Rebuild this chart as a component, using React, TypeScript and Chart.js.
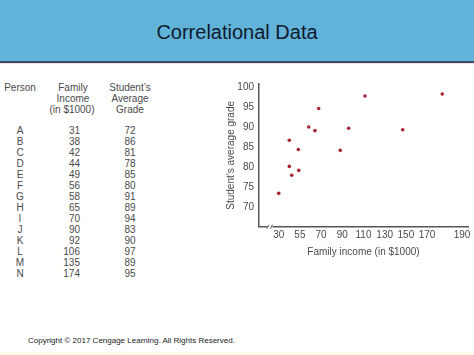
import React, { useEffect, useRef } from "react";
import { Chart, registerables } from "chart.js";

Chart.register(...registerables);

const persons = ["A", "B", "C", "D", "E", "F", "G", "H", "I", "J", "K", "L", "M", "N"];
const tableIncome = [31, 38, 42, 44, 49, 56, 58, 65, 70, 90, 92, 106, 135, 174];
const tableGrade = [72, 86, 81, 78, 85, 80, 91, 89, 94, 83, 90, 97, 89, 95];

// positions of the plotted dots
const plotIncome = [30, 40, 40, 42.3, 48.5, 48.9, 58.3, 64.2, 67.7, 88.1, 96, 111.4, 147, 184.3];
const plotGrade = [73.5, 86.7, 80.2, 78, 84.4, 79.2, 90, 89.1, 94.6, 84.2, 89.7, 97.7, 89.3, 98.2];

const xTickValues = [30, 50, 70, 90, 110, 130, 150, 170, 203];
const xTickLabels = ["30", "55", "70", "90", "110", "130", "150", "170", "190"];
const yTickValues = [70, 75, 80, 85, 90, 95, 100];

const FONT = "'Liberation Sans', Arial, sans-serif";
const TXT = "#4a4a4a";

const breakPlugin = {
  id: "axisBreak",
  afterDraw(chart: any) {
    const ctx = chart.ctx;
    const x = chart.scales.x;
    const y = chart.scales.y;
    const bx = x.getPixelForValue(x.min) + 11;
    const by = y.bottom;
    ctx.save();
    ctx.fillStyle = "#ffffff";
    ctx.fillRect(bx - 2.5, by - 2, 5, 4);
    ctx.strokeStyle = "#555555";
    ctx.lineWidth = 1;
    ctx.beginPath();
    ctx.moveTo(bx - 3, by + 2);
    ctx.lineTo(bx - 1, by - 2);
    ctx.moveTo(bx + 0.5, by + 2);
    ctx.lineTo(bx + 2.5, by - 2);
    ctx.stroke();
    ctx.restore();
  },
};

function ScatterChart() {
  const ref = useRef<HTMLCanvasElement | null>(null);
  useEffect(() => {
    if (!ref.current) return;
    const data = plotIncome.map((v, i) => ({ x: v, y: plotGrade[i] }));
    const chart = new Chart(ref.current, {
      type: "scatter",
      data: {
        datasets: [
          {
            data,
            backgroundColor: "#a82436",
            borderColor: "#a82436",
            borderWidth: 0,
            pointRadius: 1.8,
          },
        ],
      },
      plugins: [breakPlugin],
      options: {
        animation: false,
        responsive: false,
        maintainAspectRatio: false,
        layout: { padding: { left: 19, right: 6, top: 14, bottom: 10 } },
        plugins: { legend: { display: false }, tooltip: { enabled: false } },
        scales: {
          x: {
            type: "linear",
            min: 11.4,
            max: 208.6,
            grid: { display: false, drawTicks: false },
            border: { display: true, color: "#555555", width: 1.5 },
            afterBuildTicks: (s: any) => {
              s.ticks = xTickValues.map((v) => ({ value: v }));
            },
            afterFit: (s: any) => {
              s.height = 33.3;
            },
            ticks: {
              padding: 3,
              color: TXT,
              font: { family: FONT, size: 10 },
              maxRotation: 0,
              autoSkip: false,
              callback: (v: any) => {
                const i = xTickValues.indexOf(Number(v));
                return i >= 0 ? xTickLabels[i] : "";
              },
            },
            title: {
              display: true,
              text: "Family income (in $1000)",
              color: TXT,
              font: { family: FONT, size: 10 },
              padding: { top: 2, bottom: 2 },
            },
          },
          y: {
            type: "linear",
            min: 65.2,
            max: 100.7,
            grid: { display: false, drawTicks: false },
            border: { display: true, color: "#555555", width: 1.5 },
            afterBuildTicks: (s: any) => {
              s.ticks = yTickValues.map((v) => ({ value: v }));
            },
            afterFit: (s: any) => {
              s.width = 40;
            },
            ticks: {
              padding: 5,
              color: TXT,
              font: { family: FONT, size: 10 },
              autoSkip: false,
            },
            title: {
              display: true,
              text: "Student\u2019s average grade",
              color: TXT,
              font: { family: FONT, size: 10 },
              padding: { top: 6, bottom: 2 },
            },
          },
        },
      },
    });
    return () => chart.destroy();
  }, []);
  return (
    <canvas
      ref={ref}
      width={274}
      height={200}
      style={{ position: "absolute", left: 200, top: 70, width: 274, height: 200 }}
    />
  );
}

const ROW = 10.95;

export default function App() {
  useEffect(() => {
    document.body.style.margin = "0";
  }, []);

  const cell = (text: string, top: number, left: number, width: number, align: "left" | "center" | "right") => (
    <div
      key={text + top + left}
      style={{
        position: "absolute",
        top,
        left,
        width,
        textAlign: align,
        fontSize: 10,
        lineHeight: ROW + "px",
        height: ROW,
        whiteSpace: "nowrap",
        color: TXT,
      }}
    >
      {text}
    </div>
  );

  const headTop = 82.8;
  const dataTop = 126.2;

  return (
    <div
      style={{
        position: "relative",
        width: 474,
        height: 355,
        overflow: "hidden",
        background: "#ffffff",
        fontFamily: FONT,
      }}
    >
      <div
        style={{
          position: "absolute",
          left: 0,
          top: 0,
          width: 474,
          height: 61,
          background: "#62b3da",
          borderBottom: "2px solid #3d4a6a",
        }}
      />
      <div style={{ position: "absolute", left: 0, top: 63, width: 474, height: 1, background: "#eadbe4" }} />
      <div
        style={{
          position: "absolute",
          left: 0,
          top: 19,
          width: 474,
          textAlign: "center",
          fontFamily: "'Liberation Sans', Arial, sans-serif",
          fontSize: 20,
          lineHeight: "26px",
          color: "#0f1a2c",
        }}
      >
        Correlational Data
      </div>

      {cell("Person", headTop, 0, 40, "center")}
      {cell("Family", headTop, 47, 52, "center")}
      {cell("Income", headTop + ROW, 47, 52, "center")}
      {cell("(in $1000)", headTop + 2 * ROW, 45, 54, "center")}
      {cell("Student\u2019s", headTop, 104, 52, "center")}
      {cell("Average", headTop + ROW, 104, 52, "center")}
      {cell("Grade", headTop + 2 * ROW, 104, 52, "center")}

      {persons.map((p, i) => cell(p, dataTop + i * ROW, 0, 40, "center"))}
      {tableIncome.map((v, i) => cell(String(v), dataTop + i * ROW, 40, 40, "right"))}
      {tableGrade.map((v, i) => cell(String(v), dataTop + i * ROW, 110, 40, "center"))}

      <ScatterChart />

      <div
        style={{
          position: "absolute",
          left: 28,
          top: 336,
          fontSize: 8,
          lineHeight: "10px",
          color: "#222222",
          whiteSpace: "nowrap",
        }}
      >
        Copyright © 2017 Cengage Learning. All Rights Reserved.
      </div>
      <div style={{ position: "absolute", left: 0, top: 352, width: 474, height: 3, background: "#fffdec" }} />
    </div>
  );
}
